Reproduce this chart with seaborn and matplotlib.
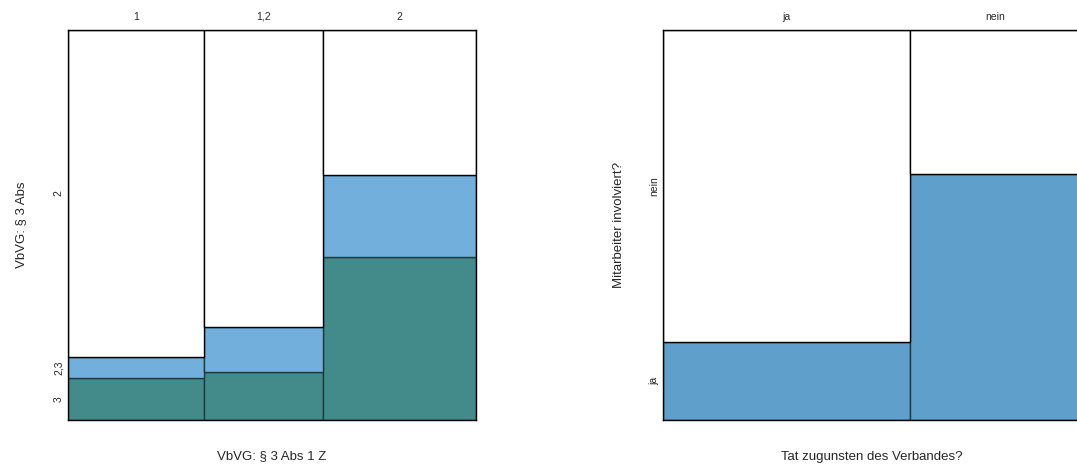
import matplotlib
matplotlib.use("Agg")
import matplotlib.pyplot as plt
import numpy as np
import seaborn as sns

sns.set_theme(style="white")
plt.rcParams["font.family"] = ["Liberation Sans", "DejaVu Sans"]

# left panel: VbVG § 3 Abs 1 Z (columns) vs VbVG § 3 Abs (stacked segments)
left_cols = ["1", "1,2", "2"]
left_col_share = [0.333, 0.292, 0.375]
left_seg_labels = ["3", "2,3", "2"]
left_share_3 = [0.108, 0.123, 0.418]
left_share_23 = [0.054, 0.115, 0.210]

# right panel: Tat zugunsten des Verbandes? vs Mitarbeiter involviert?
right_cols = ["ja", "nein"]
right_col_share = [0.59, 0.41]
right_seg_labels = ["ja", "nein"]
right_share_ja = [0.200, 0.630]

DARK = "#438b8b"
LIGHT = "#72afdc"
BLUE = "#5f9fcb"
EDGE = "#1e3a3c"


def spine_panel(ax, col_share, segments, colors, seg_labels, col_labels):
    widths = np.array(col_share)
    lefts = np.concatenate([[0], np.cumsum(widths)[:-1]])
    bottom = np.zeros(len(widths))
    for seg, color in zip(segments, colors):
        seg = np.array(seg)
        ax.bar(lefts, seg, width=widths, bottom=bottom, align="edge",
               color=color, edgecolor=EDGE, linewidth=1.0)
        bottom = bottom + seg
    ax.bar(lefts, 1 - bottom, width=widths, bottom=bottom, align="edge",
           color="white", edgecolor="black", linewidth=1.0)

    # y tick positions follow the first column's segments
    first = [s[0] for s in segments] + [1 - bottom[0]]
    edges = np.concatenate([[0], np.cumsum(first)])
    ax.set_yticks((edges[:-1] + edges[1:]) / 2)
    ax.set_yticklabels(seg_labels, rotation=90, va="center", fontsize=7.5)

    ax.set_xticks(lefts + widths / 2)
    ax.set_xticklabels(col_labels, fontsize=7.5)
    ax.xaxis.tick_top()
    ax.tick_params(axis="x", length=0, pad=6)
    ax.tick_params(axis="y", length=0, pad=3)
    ax.set_xlim(0, 1)
    ax.set_ylim(0, 1)
    for s in ax.spines.values():
        s.set_color("black")
        s.set_linewidth(1.0)


fig = plt.figure(figsize=(10.77, 4.66), dpi=100)

ax1 = fig.add_axes([68 / 1077, 1 - 420 / 466, 408 / 1077, 390 / 466])
spine_panel(ax1, left_col_share, [left_share_3, left_share_23],
            [DARK, LIGHT], left_seg_labels, left_cols)
ax1.set_xlabel("VbVG: § 3 Abs 1 Z", fontsize=9.5, labelpad=22)
ax1.xaxis.set_label_position("bottom")
ax1.set_ylabel("VbVG: § 3 Abs", fontsize=9.5, labelpad=19)

# right panel runs off the right edge of the figure, as in the source
ax2 = fig.add_axes([663 / 1077, 1 - 420 / 466, 418 / 1077, 390 / 466])
spine_panel(ax2, right_col_share, [right_share_ja],
            [BLUE], right_seg_labels, right_cols)
ax2.spines["right"].set_visible(False)
ax2.set_xlabel("Tat zugunsten des Verbandes?", fontsize=9.5, labelpad=22)
ax2.xaxis.set_label_position("bottom")
ax2.set_ylabel("Mitarbeiter involviert?", fontsize=9.5, labelpad=17)

fig.savefig("out.png", dpi=100)
plt.close(fig)
